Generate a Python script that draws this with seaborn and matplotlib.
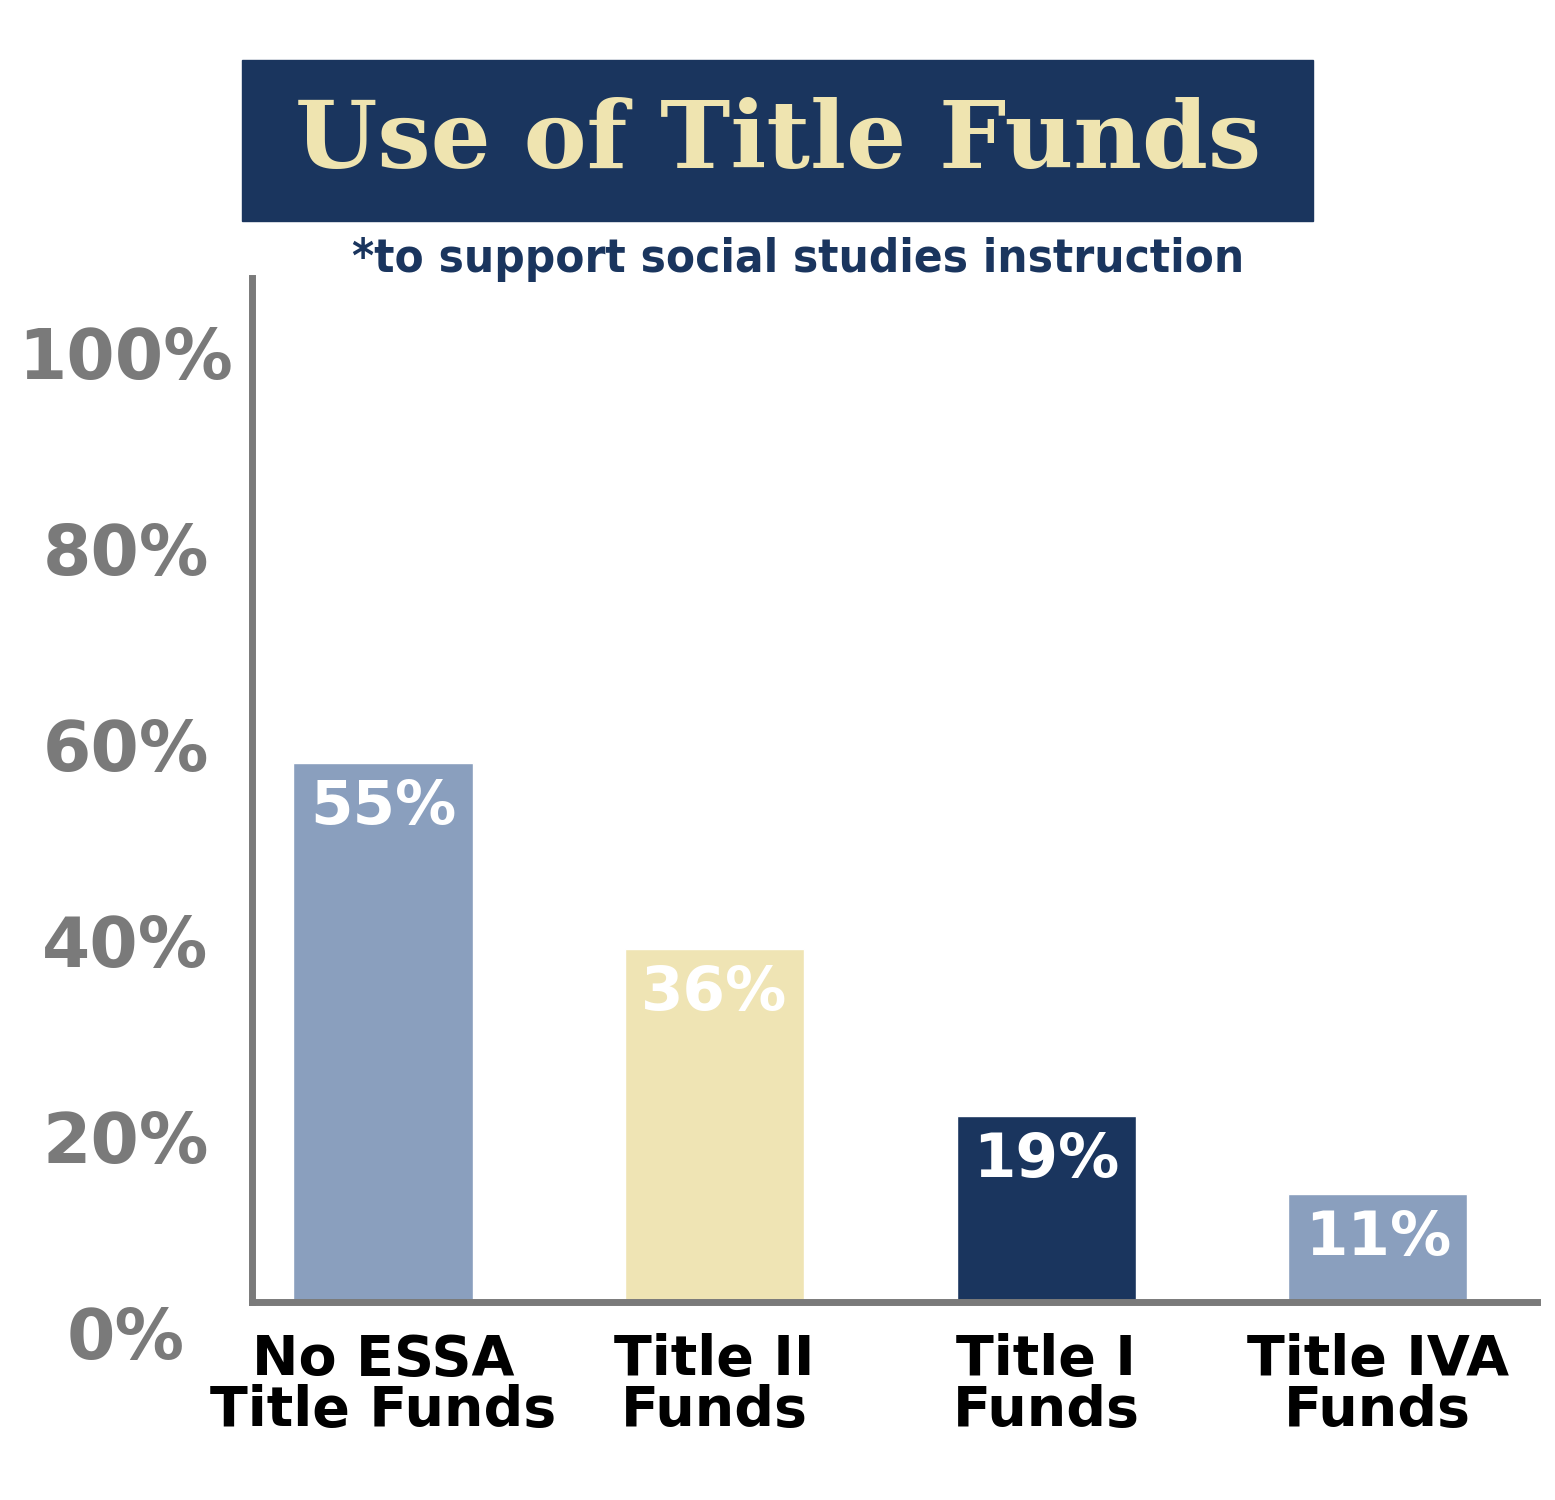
import matplotlib
matplotlib.use("Agg")
import matplotlib.pyplot as plt
import matplotlib.transforms as mtransforms
import seaborn as sns
import pandas as pd

categories = ["No ESSA\nTitle Funds", "Title II\nFunds", "Title I\nFunds", "Title IVA\nFunds"]
values = [55, 36, 19, 11]
bar_colors = ["#8a9fbe", "#efe4b4", "#1a355e", "#8a9fbe"]
ytick_vals = [0, 20, 40, 60, 80, 100]

NAVY = "#1a355e"
CREAM = "#efe4b0"
GREY = "#7a7a7a"

sns.set_style("white")
plt.rcParams["font.family"] = ["DejaVu Sans"]

fig = plt.figure(figsize=(15.55, 15), dpi=100)
ax = fig.add_axes([252 / 1555, 198 / 1500, 1285 / 1555, 1024 / 1500])

df = pd.DataFrame({"cat": categories, "val": values})
sns.barplot(data=df, x="cat", y="val", hue="cat", palette=bar_colors,
            width=0.54, legend=False, ax=ax, saturation=1)

ax.set_xlim(-0.395, 3.48)
ax.set_ylim(0, 104.5)
ax.set_xlabel("")
ax.set_ylabel("")
sns.despine(ax=ax)
for s in ["left", "bottom"]:
    ax.spines[s].set_color(GREY)
    ax.spines[s].set_linewidth(5)

ax.set_yticks(ytick_vals)
ax.set_yticklabels([f"{v}%" for v in ytick_vals], fontsize=50, fontweight="semibold",
                   color=GREY, ha="center")
ax.tick_params(axis="y", length=0, pad=91)
off = mtransforms.ScaledTranslation(0, -0.3, fig.dpi_scale_trans)
for lab in ax.get_yticklabels():
    lab.set_transform(lab.get_transform() + off)

ax.tick_params(axis="x", length=0, pad=22)
ax.set_xticks(range(len(categories)))
ax.set_xticklabels(categories, fontsize=40, fontweight="bold", color="black", linespacing=0.95)

for i, v in enumerate(values):
    ax.text(i, v - 1.5, f"{v}%", ha="center", va="top", fontsize=44,
            fontweight="bold", color="white")

# title box
fig.patches.append(plt.Rectangle((242 / 1555, 1 - 221 / 1500), 1071 / 1555, 161 / 1500,
                                 transform=fig.transFigure, color=NAVY))
fig.text(778 / 1555, 1 - 142 / 1500, "Use of Title Funds", ha="center", va="center",
         fontsize=68, fontweight="bold", color=CREAM, family=["DejaVu Serif"])
fig.text(798 / 1555, 1 - 260 / 1500, "*to support social studies instruction", ha="center",
         va="center", fontsize=34, fontweight="bold", color=NAVY,
         family=["DejaVu Sans"], stretch="condensed")

fig.savefig("out.png", dpi=100)
